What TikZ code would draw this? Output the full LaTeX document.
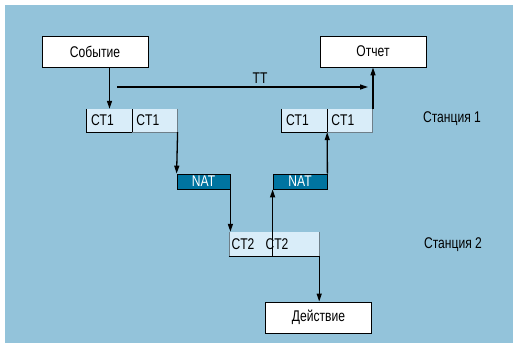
\documentclass[tikz,border=0pt]{standalone}
\usepackage{fontspec}
\setmainfont{Liberation Sans}[FakeStretch=0.78]
\usetikzlibrary{arrows.meta,positioning,calc}
\definecolor{panel}{HTML}{93C3DA}
\definecolor{cellfill}{HTML}{D9EDF9}
\definecolor{natfill}{HTML}{0074A0}
\definecolor{celledge}{HTML}{6E7F89}

\begin{document}
\begin{tikzpicture}[x=1pt, y=-1pt,
  txt/.style={font=\fontsize{15.5}{17}\selectfont},
  box/.style={txt, draw=black, fill=white, line width=0.9pt, minimum width=106pt,
              minimum height=31pt, inner sep=0pt},
  cell/.style={txt, fill=cellfill, minimum height=23pt, text width=37pt,
               inner xsep=4pt, inner ysep=0pt, align=left},
  nat/.style={txt, draw=black, fill=natfill, text=white, line width=0.8pt,
              minimum width=53pt, minimum height=15pt, inner sep=0pt},
  flow/.style={-{Triangle[length=8pt,width=5pt]}, line width=1.3pt},
  hardedge/.style={line width=0.9pt, black},
  softedge/.style={line width=0.6pt, celledge}
]
  \useasboundingbox (0,0) rectangle (513,343);
  \fill[white] (0,0) rectangle (513,343);
  \fill[panel] (5,5) rectangle (513,343);

  \node[box] (event) at (95,52) {Событие};
  \node[box] (report) at (373,51.5) {Отчет};
  \node[box] (action) at (318.5,317.5) {Действие};

  \node[cell] (ca) at (109.5,120.5) {CT1};
  \node[cell, right=0pt of ca] (cb) {CT1};
  \node[cell] (cc) at (304.5,120.5) {CT1};
  \node[cell, right=0pt of cc] (cd) {CT1};

  \node[nat] (natl) at (203.5,181.5) {NAT};
  \node[nat, minimum width=54pt] (natr) at (300,181.5) {NAT};

  \node[fill=cellfill, minimum width=90pt, minimum height=24pt, inner sep=0pt]
    (ctwo) at (274,244) {};
  \node[txt] (ctwoa) at (243,244) {CT2};
  \node[txt] (ctwob) at (277,244) {CT2};

  \node[txt] (stone) at (452,119) {Станция 1};
  \node[txt] (sttwo) at (453,245) {Станция 2};

  \draw[hardedge] (ca.north west) -- (ca.south west) -- (ca.south east) -- (ca.north east);
  \draw[softedge] (cb.north east) -- (cb.south east) -- (cb.south west);
  \draw[hardedge] (cc.north west) -- (cc.south west) -- (cc.south east) -- (cc.north east);
  \draw[softedge] (cd.north east) -- (cd.south east) -- (cd.south west);
  \draw[softedge] (ctwo.north west) -- (ctwo.south west);
  \draw[softedge] (ctwo.north east) -- (ctwo.south east);
  \draw[hardedge] (ctwo.south west) -- (ctwo.south east);

  \coordinate (ttstart) at (117,87);
  \coordinate (ttend) at (368,87);
  \draw[flow] (ttstart) -- node[txt, pos=0.57, anchor=south, inner sep=3pt] (ttlabel) {TT} (ttend);

  \draw[flow] (ca.north |- event.south) -- (ca.north);
  \draw[flow] (cb.south east) -- (natl.north west);
  \draw[flow] (natl.south east) -- (natl.south east |- ctwo.north);
  \draw[flow] (natr.south west |- ctwo.south) -- (natr.south west);
  \draw[flow] (natr.north east) -- (cc.south east);
  \draw[flow] (report.south |- cd.north) -- (report.south);
  \draw[flow] (ctwo.south east) -- (ctwo.south east |- action.north);
\end{tikzpicture}
\end{document}
